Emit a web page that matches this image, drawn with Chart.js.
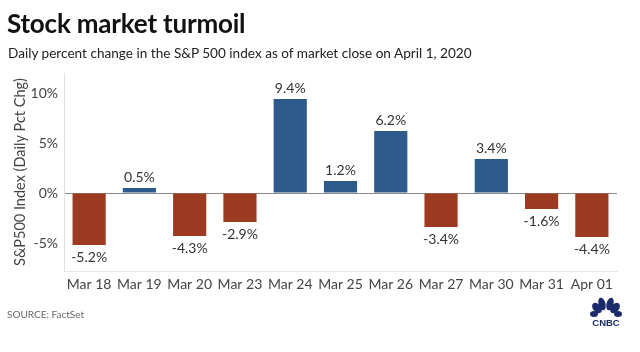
<!DOCTYPE html>
<html>
<head>
<meta charset="utf-8">
<script src="https://cdn.jsdelivr.net/npm/chart.js@4"></script>
<style>
  body { margin: 0; background: #fff; }
  #wrap { position: relative; width: 640px; height: 352px; font-family: Lato, 'Open Sans', sans-serif; }
  #title { position: absolute; left: 7px; top: 7px; font-size: 26px; font-weight: 700; color: #111; letter-spacing: -0.2px; }
  #subtitle { position: absolute; left: 8px; top: 45px; font-size: 13.6px; color: #222; }
  #source { position: absolute; left: 7px; top: 308px; font-size: 10px; color: #666; }
  #logo { position: absolute; left: 588px; top: 296px; }
  canvas { position: absolute; left: 0; top: 0; }
</style>
</head>
<body>
<div id="wrap">
  <canvas id="chart" width="640" height="352"></canvas>
  <div id="title">Stock market turmoil</div>
  <div id="subtitle">Daily percent change in the S&amp;P 500 index as of market close on April 1, 2020</div>
  <div id="source">SOURCE: FactSet</div>
  <svg id="logo" width="36" height="32" viewBox="0 0 36 32">
    <g fill="#1b2a6b">
      <ellipse cx="9" cy="12" rx="4" ry="6" transform="rotate(-40 9 12)"/>
      <ellipse cx="14" cy="8" rx="3.5" ry="6.5" transform="rotate(-15 14 8)"/>
      <ellipse cx="22" cy="8" rx="3.5" ry="6.5" transform="rotate(15 22 8)"/>
      <ellipse cx="27" cy="12" rx="4" ry="6" transform="rotate(40 27 12)"/>
      <ellipse cx="6" cy="18" rx="4" ry="3"/>
      <ellipse cx="30" cy="18" rx="4" ry="3"/>
      <text x="18" y="30" text-anchor="middle" font-family="Liberation Sans, Arial" font-weight="700" font-size="9.5">CNBC</text>
    </g>
  </svg>
</div>
<script>
const labels = ['Mar 18', 'Mar 19', 'Mar 20', 'Mar 23', 'Mar 24', 'Mar 25', 'Mar 26', 'Mar 27', 'Mar 30', 'Mar 31', 'Apr 01'];
const changes = [-5.2, 0.5, -4.3, -2.9, 9.4, 1.2, 6.2, -3.4, 3.4, -1.6, -4.4];
const yTicks = [-5, 0, 5, 10];

const UP = '#2c5b8b';
const DOWN = '#9c3b22';
const FONT = "Lato, 'Open Sans', sans-serif";

// value labels above / below each bar
const valueLabels = {
    id: 'valueLabels',
    afterDatasetsDraw(chart) {
        const ctx = chart.ctx;
        const meta = chart.getDatasetMeta(0);
        ctx.save();
        ctx.font = '14px ' + FONT;
        ctx.fillStyle = '#333';
        ctx.textAlign = 'center';
        ctx.textBaseline = 'middle';
        meta.data.forEach((bar, i) => {
            const v = changes[i];
            const y = v >= 0 ? bar.y - 11 : bar.y + 12;
            ctx.fillText(v.toFixed(1) + '%', bar.x, y);
        });
        ctx.restore();
    }
};

new Chart(document.getElementById('chart'), {
    type: 'bar',
    data: {
        labels,
        datasets: [{
            data: changes,
            backgroundColor: changes.map(v => v >= 0 ? UP : DOWN),
            categoryPercentage: 1,
            barPercentage: 0.66,
        }],
    },
    options: {
        responsive: false,
        animation: false,
        layout: { padding: { top: 73, right: 23, bottom: 56, left: 0 } },
        plugins: { legend: { display: false }, tooltip: { enabled: false } },
        scales: {
            x: {
                grid: { display: false, drawTicks: false },
                border: { display: true, color: '#e6e6e6', width: 1 },
                ticks: { color: '#444', font: { family: FONT, size: 14 }, padding: 5, maxRotation: 0, autoSkip: false },
                afterFit: s => { s.height = 25; },
            },
            y: {
                min: -7.8,
                max: 12,
                afterBuildTicks: s => { s.ticks = yTicks.map(v => ({ value: v })); },
                grid: {
                    drawTicks: false,
                    color: c => c.tick && c.tick.value === 0 ? '#8a8a8a' : 'rgba(0,0,0,0)',
                },
                border: { display: true, color: '#e0e0e0', width: 1 },
                ticks: {
                    color: '#444',
                    font: { family: FONT, size: 14 },
                    padding: 6,
                    callback: v => v + '%',
                },
                title: {
                    display: true,
                    text: 'S&P500 Index (Daily Pct Chg)',
                    color: '#444',
                    font: { family: FONT, size: 14.5 },
                    padding: { top: 12, bottom: 0 },
                },
                afterFit: s => { s.width = 64; },
            },
        },
    },
    plugins: [valueLabels],
});
</script>
</body>
</html>
